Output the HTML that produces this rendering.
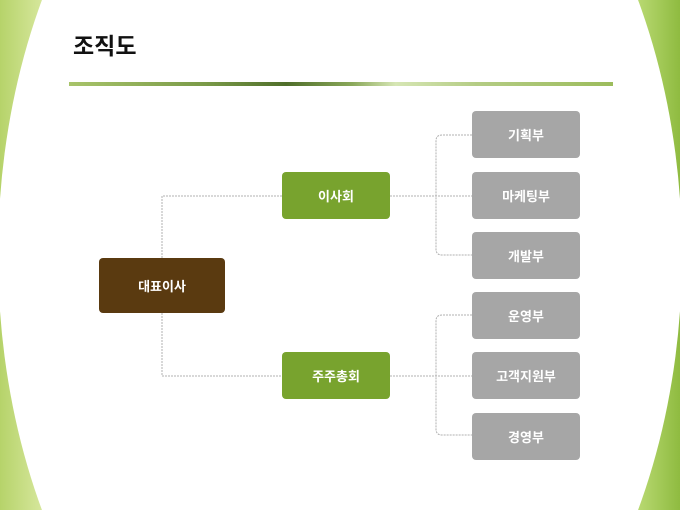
<!DOCTYPE html>
<html style="margin:0;width:680px;height:510px;overflow:hidden"><head><meta charset="utf-8"><style>
body{margin:0;width:680px;height:510px;overflow:hidden;position:relative;font-family:"Liberation Sans","Noto Sans CJK KR",sans-serif;background:linear-gradient(90deg,#b6d36a 0%,#d5e69a 6%,#a9cc5c 12%,#9cc34c 88%,#b7d870 94%,#8fbb40 100%);}
.wrap{position:absolute;left:0;top:0;width:680px;height:510px;overflow:hidden;}
.t{position:absolute;left:73px;top:27px;font-size:23px;font-weight:bold;color:#111;}
.ln{position:absolute;left:69px;top:82px;width:544px;height:4px;background:linear-gradient(90deg,#a8c46a 0%,#7a9a48 25%,#4f6e2a 40%,#8aa85a 52%,#d6e6b4 60%,#b4cc84 75%,#9cbc5c 100%);}
.b{position:absolute;display:flex;align-items:center;justify-content:center;color:#fff;font-size:13px;font-weight:bold;border-radius:4px;}
.g{background:#a6a6a6;left:472px;width:108px;height:47px;}
.gr{background:#78a32e;left:282px;width:108px;height:47px;}
</style></head><body>
<div class="wrap">
<svg width="680" height="510" style="position:absolute;left:0;top:0"><ellipse cx="340" cy="255" rx="342" ry="520" fill="#fff"/></svg>
<div class="t">조직도</div>
<div class="ln"></div>
<svg width="680" height="510" style="position:absolute;left:0;top:0" fill="none" stroke="#b0b0b0" stroke-width="1" stroke-dasharray="2,1">
<path d="M162 258V196H282M162 313V376H282"/>
<path d="M390 196H472M472 135H442Q436 135 436 141V249Q436 255 442 255H472"/>
<path d="M390 376H472M472 315H442Q436 315 436 321V429Q436 435 442 435H472"/>
</svg>
<div class="b" style="left:99px;top:258px;width:126px;height:55px;background:#5a3a10">대표이사</div>
<div class="b gr" style="top:172px">이사회</div>
<div class="b gr" style="top:352px">주주총회</div>
<div class="b g" style="top:111px">기획부</div>
<div class="b g" style="top:172px">마케팅부</div>
<div class="b g" style="top:232px">개발부</div>
<div class="b g" style="top:292px">운영부</div>
<div class="b g" style="top:352px">고객지원부</div>
<div class="b g" style="top:413px">경영부</div>
</div>
</body></html>
